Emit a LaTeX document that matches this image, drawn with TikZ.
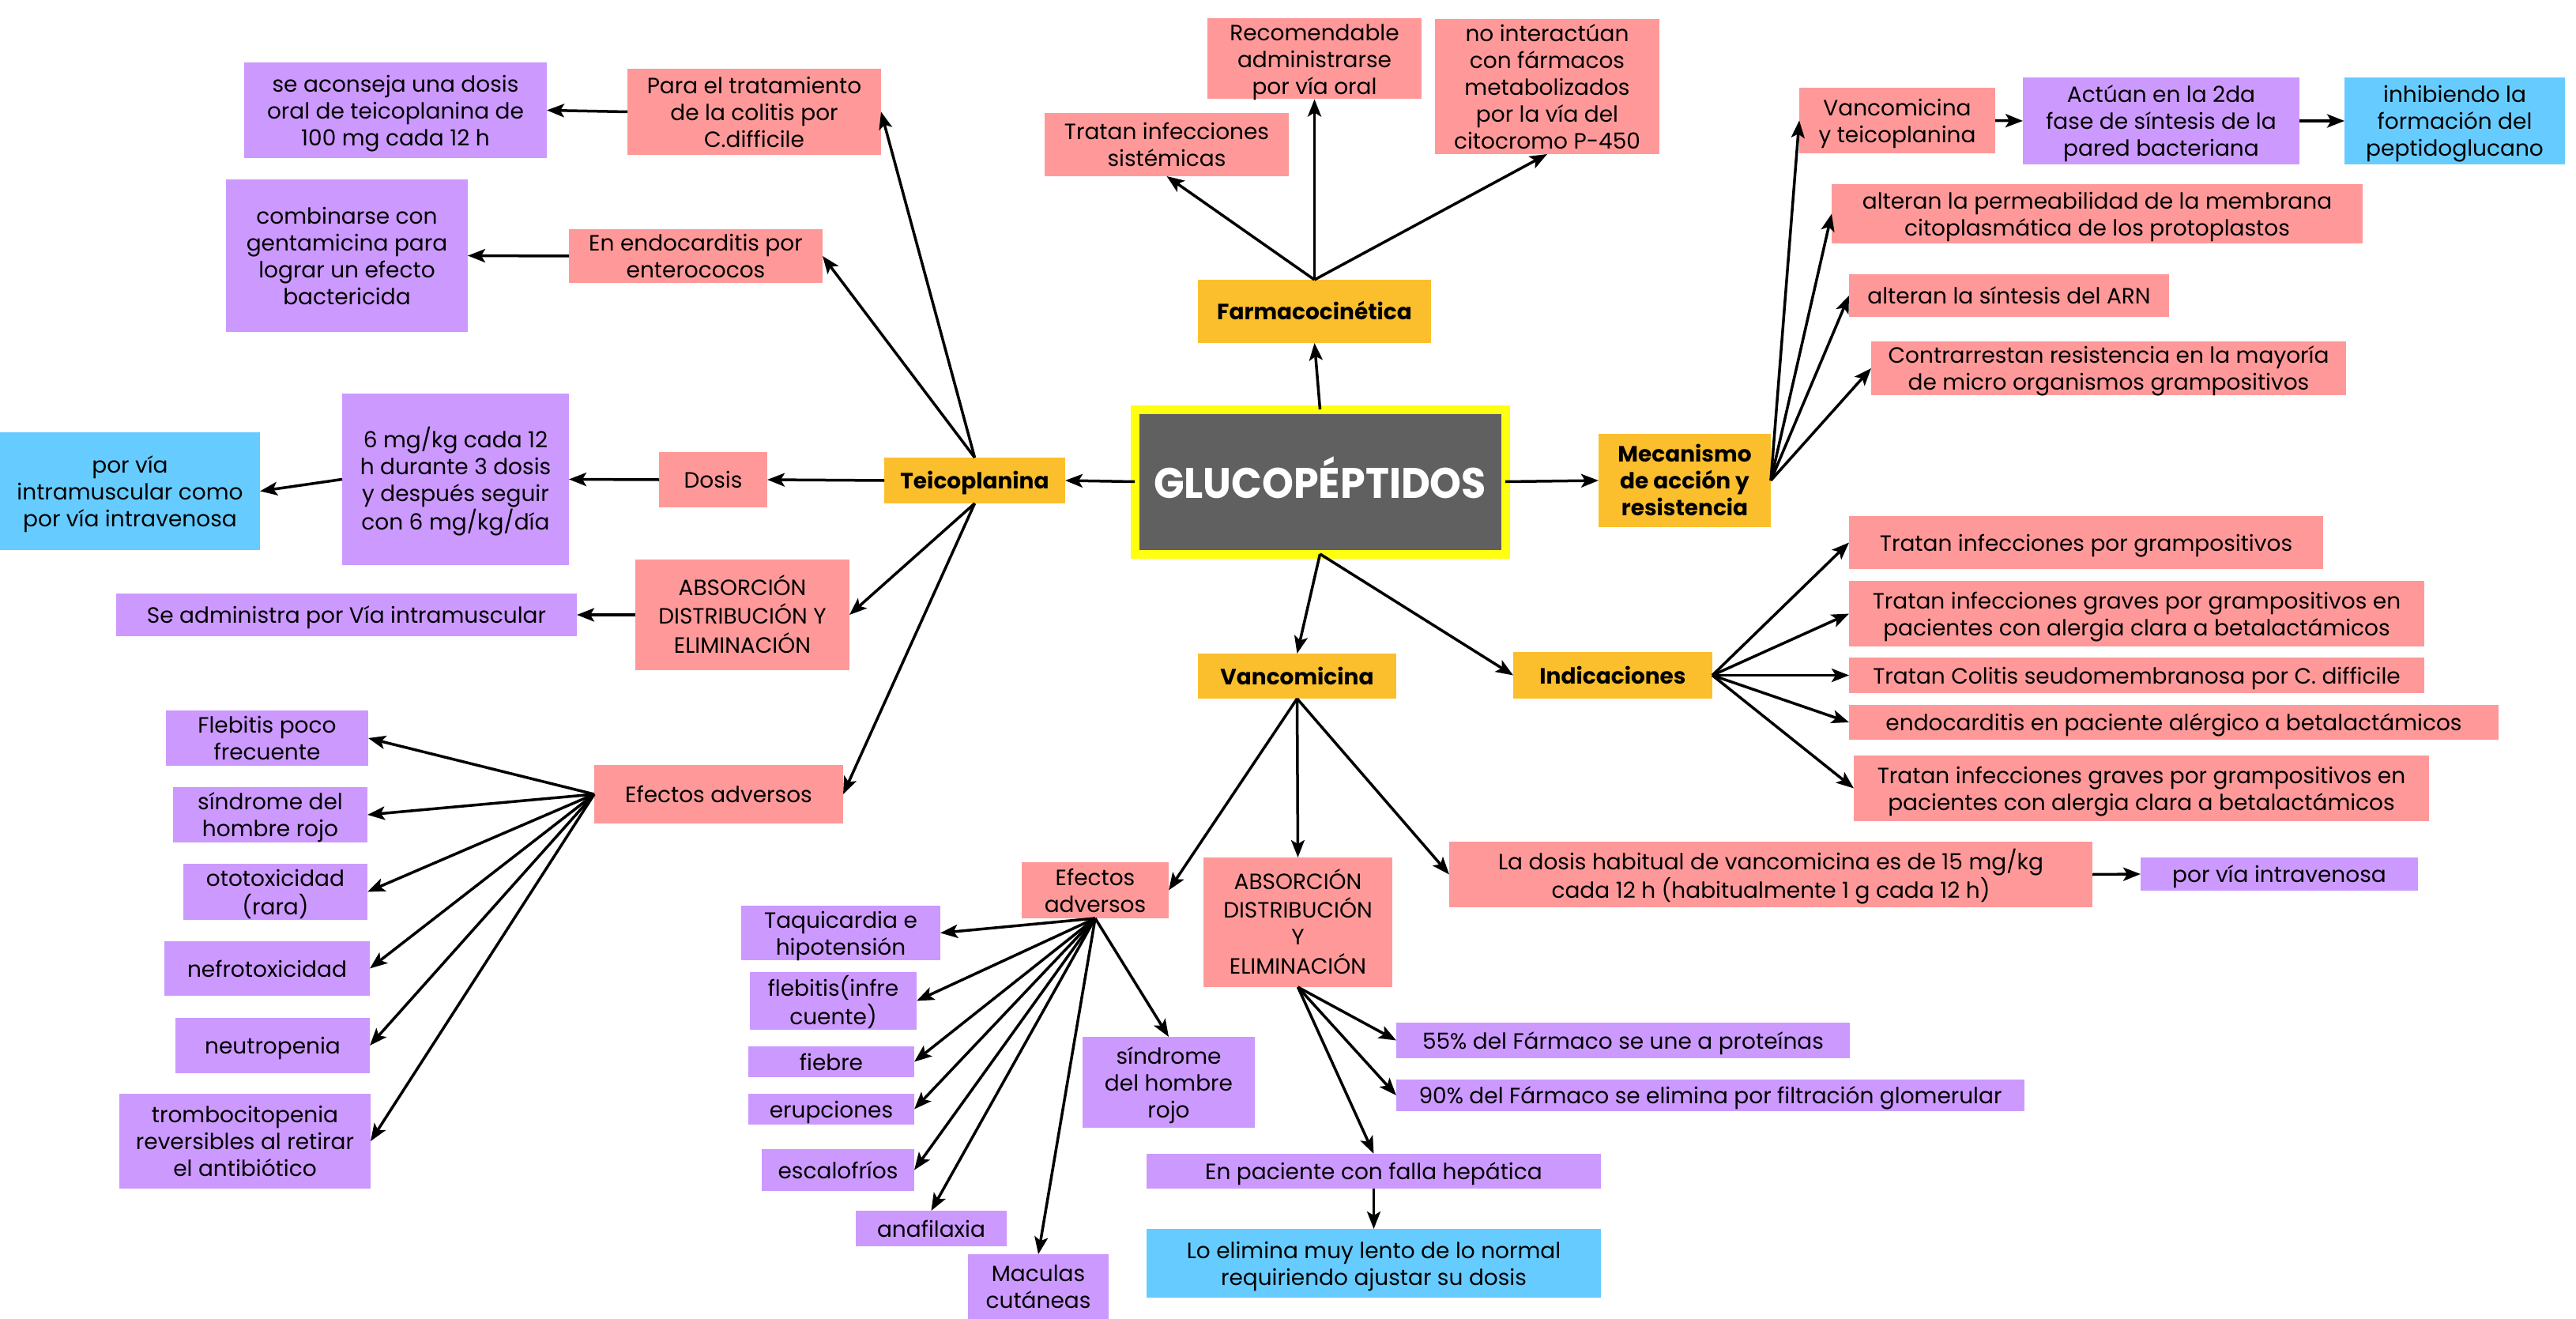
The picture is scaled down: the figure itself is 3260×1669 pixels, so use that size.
\documentclass[tikz,border=0pt]{standalone}
\usepackage{fontspec}
\usepackage{graphicx}
\setmainfont{Poppins}
\usetikzlibrary{arrows.meta}
\definecolor{cpink}{HTML}{FF9999}
\definecolor{cpurple}{HTML}{CC99FF}
\definecolor{cblue}{HTML}{66CCFF}
\definecolor{cgold}{HTML}{FBBF2D}
\definecolor{cdark}{HTML}{606060}
\definecolor{cyel}{HTML}{FFFF10}
\newdimen\fitw
\newsavebox\fitbox
\newsavebox\fitboxb
\newcommand\fitto[2]{\fitw=#1\relax\sbox\fitbox{\begin{tabular}{@{}c@{}}#2\end{tabular}}\sbox\fitboxb{\ifdim\wd\fitbox>\fitw\resizebox{\fitw}{\height}{\usebox\fitbox}\else\usebox\fitbox\fi}\raisebox{-4pt}[\ht\fitboxb][\dp\fitboxb]{\usebox\fitboxb}}
\newcommand\bx[7]{\node[#1, minimum width={(#5-#3)*1pt}, minimum height={(#6-#4)*1pt}] (#2) at ({(#3+#5)/2},{(#4+#6)/2}) {\fitto{\dimexpr #5pt-#3pt-16pt\relax}{#7}};}
\tikzset{
  basebox/.style={rectangle, inner sep=0pt, outer sep=0pt, font=\fontsize{28}{34}\selectfont, text=black},
  pinkbox/.style={basebox, fill=cpink},
  purplebox/.style={basebox, fill=cpurple},
  bluebox/.style={basebox, fill=cblue},
  goldbox/.style={basebox, fill=cgold, font=\fontsize{28}{34}\selectfont\bfseries},
  mainbox/.style={basebox, fill=cdark, draw=cyel, line width=11pt, text=white, font=\fontsize{54}{60}\selectfont\bfseries},
  arr/.style={-{Stealth[length=22pt,width=17pt,inset=5pt]}, line width=3.5pt, black},
}
\begin{document}
\begin{tikzpicture}[x=1pt,y=-1pt]
\useasboundingbox (0,0) rectangle (3260,1669);
\fill[white] (0,0) rectangle (3260,1669);
% top
\bx{pinkbox}{sist}{1322}{143}{1631}{223}{Tratan infecciones\\sistémicas}
\bx{pinkbox}{recom}{1528}{24}{1799}{125}{Recomendable\\administrarse\\por vía oral}
\bx{pinkbox}{nointer}{1816}{24}{2100}{195}{no interactúan\\con fármacos\\metabolizados\\por la vía del\\citocromo P-450}
\bx{goldbox}{farm}{1516}{354}{1811}{434}{Farmacocinética}
\bx{mainbox}{gluc}{1436}{518}{1905}{701}{\fitw=421pt\resizebox{\fitw}{\height}{GLUCOPÉPTIDOS}}
% mecanismo
\bx{goldbox}{mec}{2023}{549}{2241}{667}{Mecanismo\\de acción y\\resistencia}
\bx{pinkbox}{vt}{2277}{111}{2525}{194}{Vancomicina\\y teicoplanina}
\bx{purplebox}{act}{2560}{98}{2910}{208}{Actúan en la 2da\\fase de síntesis de la\\pared bacteriana}
\bx{bluebox}{inh}{2967}{98}{3246}{208}{inhibiendo la\\formación del\\peptidoglucano}
\bx{pinkbox}{perm}{2318}{233}{2990}{308}{alteran la permeabilidad de la membrana\\citoplasmática de los protoplastos}
\bx{pinkbox}{arn}{2340}{347}{2745}{401}{alteran la síntesis del ARN}
\bx{pinkbox}{contr}{2368}{432}{2969}{500}{Contrarrestan resistencia en la mayoría\\de micro organismos grampositivos}
% teicoplanina
\bx{purplebox}{aconseja}{309}{79}{692}{200}{se aconseja una dosis\\oral de teicoplanina de\\100 mg cada 12 h}
\bx{pinkbox}{colitis}{794}{87}{1115}{196}{Para el tratamiento\\de la colitis por\\C.difficile}
\bx{purplebox}{comb}{286}{227}{592}{420}{combinarse con\\gentamicina para\\lograr un efecto\\bactericida}
\bx{pinkbox}{endo}{720}{293}{1041}{355}{En endocarditis por\\enterococos}
\bx{purplebox}{six}{433}{498}{720}{715}{6 mg/kg cada 12\\h durante 3 dosis\\y después seguir\\con 6 mg/kg/día}
\bx{bluebox}{ivim}{0}{547}{329}{696}{por vía\\intramuscular como\\por vía intravenosa}
\bx{pinkbox}{dosis}{834}{572}{971}{642}{Dosis}
\bx{goldbox}{teico}{1119}{579}{1348}{637}{Teicoplanina}
\bx{purplebox}{adm}{147}{751}{730}{805}{Se administra por Vía intramuscular}
\bx{pinkbox}{absT}{804}{708}{1075}{848}{ABSORCIÓN\\DISTRIBUCIÓN Y\\ELIMINACIÓN}
\bx{pinkbox}{efT}{752}{968}{1067}{1042}{Efectos adversos}
\bx{purplebox}{flebT}{210}{899}{466}{969}{Flebitis poco\\frecuente}
\bx{purplebox}{sindT}{219}{996}{465}{1066}{síndrome del\\hombre rojo}
\bx{purplebox}{oto}{232}{1093}{465}{1164}{ototoxicidad\\(rara)}
\bx{purplebox}{nefro}{208}{1191}{468}{1260}{nefrotoxicidad}
\bx{purplebox}{neut}{222}{1288}{468}{1358}{neutropenia}
\bx{purplebox}{trombo}{151}{1384}{469}{1504}{trombocitopenia\\reversibles al retirar\\el antibiótico}
% vancomicina
\bx{goldbox}{vanco}{1516}{827}{1767}{884}{Vancomicina}
\bx{pinkbox}{efV}{1293}{1091}{1479}{1162}{Efectos\\adversos}
\bx{purplebox}{taq}{938}{1146}{1190}{1215}{Taquicardia e\\hipotensión}
\bx{purplebox}{flebV}{949}{1232}{1160}{1301}{flebitis(infre\\cuente)}
\bx{purplebox}{fiebre}{947}{1324}{1157}{1363}{fiebre}
\bx{purplebox}{erup}{947}{1384}{1157}{1423}{erupciones}
\bx{purplebox}{escal}{964}{1454}{1157}{1507}{escalofríos}
\bx{purplebox}{anaf}{1083}{1532}{1274}{1577}{anafilaxia}
\bx{purplebox}{mac}{1225}{1587}{1403}{1669}{Maculas\\cutáneas}
\bx{purplebox}{sindV}{1370}{1312}{1588}{1427}{síndrome\\del hombre\\rojo}
\bx{pinkbox}{absV}{1523}{1085}{1762}{1249}{ABSORCIÓN\\DISTRIBUCIÓN\\Y\\ELIMINACIÓN}
\bx{pinkbox}{dosisV}{1834}{1065}{2648}{1148}{La dosis habitual de vancomicina es de 15 mg/kg\\cada 12 h (habitualmente 1 g cada 12 h)}
\bx{purplebox}{ivV}{2709}{1085}{3060}{1127}{por vía intravenosa}
\bx{purplebox}{p55}{1767}{1294}{2341}{1339}{55\% del Fármaco se une a proteínas}
\bx{purplebox}{p90}{1767}{1366}{2562}{1406}{90\% del Fármaco se elimina por filtración glomerular}
\bx{purplebox}{falla}{1451}{1460}{2026}{1504}{En paciente con falla hepática}
\bx{bluebox}{elim}{1451}{1555}{2026}{1642}{Lo elimina muy lento de lo normal\\requiriendo ajustar su dosis}
% indicaciones
\bx{goldbox}{ind}{1915}{825}{2167}{884}{Indicaciones}
\bx{pinkbox}{i1}{2340}{653}{2940}{720}{Tratan infecciones por grampositivos}
\bx{pinkbox}{i2}{2340}{735}{3068}{818}{Tratan infecciones graves por grampositivos en\\pacientes con alergia clara a betalactámicos}
\bx{pinkbox}{i3}{2340}{832}{3068}{877}{Tratan Colitis seudomembranosa por C. difficile}
\bx{pinkbox}{i4}{2340}{892}{3162}{936}{endocarditis en paciente alérgico a betalactámicos}
\bx{pinkbox}{i5}{2346}{956}{3074}{1039}{Tratan infecciones graves por grampositivos en\\pacientes con alergia clara a betalactámicos}
% connectors
\draw[arr] (gluc.north) -- (farm.south);
\draw[arr] (farm.north) -- (sist.south);
\draw[arr] (farm.north) -- (recom.south);
\draw[arr] (farm.north) -- (nointer.south);
\draw[arr] (gluc.east) -- (mec.west);
\draw[arr] (gluc.west) -- (teico.east);
\draw[arr] (gluc.south) -- (vanco.north);
\draw[arr] (gluc.south) -- (ind.west);
\draw[arr] (mec.east) -- (vt.west);
\draw[arr] (mec.east) -- (perm.west);
\draw[arr] (mec.east) -- (arn.west);
\draw[arr] (mec.east) -- (contr.west);
\draw[arr] (vt.east) -- (act.west);
\draw[arr] (act.east) -- (inh.west);
\draw[arr] (ind.east) -- (i1.west);
\draw[arr] (ind.east) -- (i2.west);
\draw[arr] (ind.east) -- (i3.west);
\draw[arr] (ind.east) -- (i4.west);
\draw[arr] (ind.east) -- (i5.west);
\draw[arr] (vanco.south) -- (efV.east);
\draw[arr] (vanco.south) -- (absV.north);
\draw[arr] (vanco.south) -- (dosisV.west);
\draw[arr] (dosisV.east) -- (ivV.west);
\draw[arr] (efV.south) -- (taq.east);
\draw[arr] (efV.south) -- (flebV.east);
\draw[arr] (efV.south) -- (fiebre.east);
\draw[arr] (efV.south) -- (erup.east);
\draw[arr] (efV.south) -- (escal.east);
\draw[arr] (efV.south) -- (anaf.north);
\draw[arr] (efV.south) -- (mac.north);
\draw[arr] (efV.south) -- (sindV.north);
\draw[arr] (absV.south) -- (p55.west);
\draw[arr] (absV.south) -- (p90.west);
\draw[arr] (absV.south) -- (falla.north);
\draw[arr] (falla.south) -- (elim.north);
\draw[arr] (teico.north) -- (colitis.east);
\draw[arr] (teico.north) -- (endo.east);
\draw[arr] (teico.west) -- (dosis.east);
\draw[arr] (dosis.west) -- (six.east);
\draw[arr] (six.west) -- (ivim.east);
\draw[arr] (colitis.west) -- (aconseja.east);
\draw[arr] (endo.west) -- (comb.east);
\draw[arr] (teico.south) -- (absT.east);
\draw[arr] (teico.south) -- (efT.east);
\draw[arr] (absT.west) -- (adm.east);
\draw[arr] (efT.west) -- (flebT.east);
\draw[arr] (efT.west) -- (sindT.east);
\draw[arr] (efT.west) -- (oto.east);
\draw[arr] (efT.west) -- (nefro.east);
\draw[arr] (efT.west) -- (neut.east);
\draw[arr] (efT.west) -- (trombo.east);
\end{tikzpicture}
\end{document}
